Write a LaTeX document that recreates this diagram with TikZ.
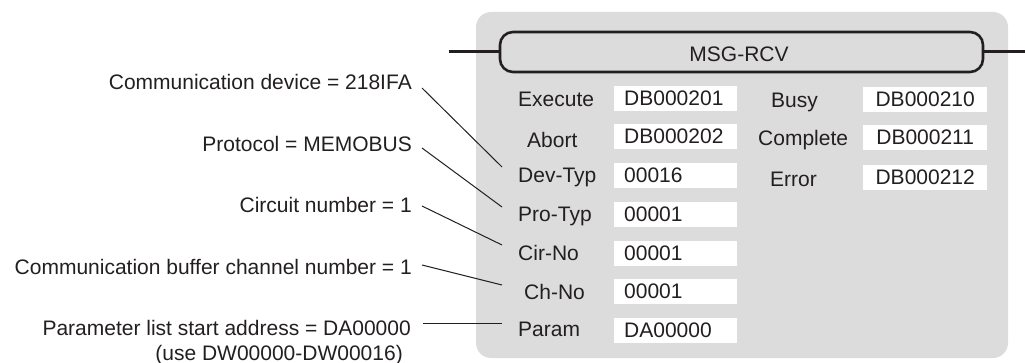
\documentclass[tikz,border=0pt]{standalone}
\usepackage{fontspec}
\setmainfont{Liberation Sans}
\usetikzlibrary{calc}
\definecolor{panel}{HTML}{DCDCDC}
\definecolor{ink}{HTML}{231F20}
\begin{document}
\begin{tikzpicture}[x=1pt,y=-1pt,
  every node/.style={font=\fontsize{21}{25}\selectfont, text=ink},
  lbl/.style={anchor=base west, inner sep=0pt},
  note/.style={anchor=base east, inner sep=0pt, align=right},
  valL/.style={fill=white, minimum width=123, minimum height=25, text width=103, inner xsep=10, inner ysep=0, align=left, text height=15, text depth=2},
  valR/.style={fill=white, minimum width=124, minimum height=25, text width=104, inner xsep=10, inner ysep=0, align=center, text height=15, text depth=2},
  stub/.style={draw=ink, line width=3},
  conn/.style={draw=ink, line width=1}]
\useasboundingbox (0,0) rectangle (1025,363);
% panel
\fill[panel, rounded corners=15] (476,12) rectangle (1008,358);
% title box
\node[draw=ink, line width=2.6, rounded corners=13, minimum width=483, minimum height=40, inner sep=0] (msg) at (741.5,52) {};
\node[anchor=base, inner sep=0] (title) at (739,62) {MSG-RCV};
\coordinate (lstub) at (449,52);
\coordinate (rstub) at (1025,52);
\draw[stub] (lstub) -- (msg.west);
\draw[stub] (msg.east) -- (rstub);
% left labels
\node[lbl] (exe) at (518,107) {Execute};
\node[lbl] (abo) at (527,148) {Abort};
\node[lbl] (dev) at (518,183) {Dev-Typ};
\node[lbl] (pro) at (518,222) {Pro-Typ};
\node[lbl] (cir) at (518,261) {Cir-No};
\node[lbl] (chn) at (524,300) {Ch-No};
\node[lbl] (par) at (518,336) {Param};
% right labels
\node[lbl] (bsy) at (771,108) {Busy};
\node[lbl] (cmp) at (758,146) {Complete};
\node[lbl] (err) at (770,187) {Error};
% left values
\node[valL, anchor=north west] (v1) at (614,86) {DB000201};
\node[valL, anchor=north west] (v2) at (614,124) {DB000202};
\node[valL, anchor=north west] (v3) at (614,163) {00016};
\node[valL, anchor=north west] (v4) at (614,202) {00001};
\node[valL, anchor=north west] (v5) at (614,241) {00001};
\node[valL, anchor=north west] (v6) at (614,279) {00001};
\node[valL, anchor=north west] (v7) at (614,318) {DA00000};
% right values
\node[valR, anchor=north west] (w1) at (863,87) {DB000210};
\node[valR, anchor=north west] (w2) at (863,125) {DB000211};
\node[valR, anchor=north west] (w3) at (863,165) {DB000212};
% notes
\node[note] (n1) at (412,90) {Communication device = 218IFA};
\node[note] (n2) at (412,152) {Protocol = MEMOBUS};
\node[note] (n3) at (412,213) {Circuit number = 1};
\node[note] (n4) at (412,275) {Communication buffer channel number = 1};
\node[note] (n5) at (411,335) {Parameter list start address = DA00000};
\node[note] (n6) at (403,360) {(use DW00000-DW00016)};
% connectors
\draw[conn] ($(n1.base east)+(10,-2)$) -- ($(dev.base west)+(-16,-16)$);
\draw[conn] ($(n2.base east)+(10,-4)$) -- ($(pro.base west)+(-16,-15)$);
\draw[conn] ($(n3.base east)+(10,-7)$) -- ($(cir.base west)+(-16,-16)$);
\draw[conn] ($(n4.base east)+(10,-10)$) -- ($(chn.base west)+(-22,-15)$);
\draw[conn] ($(n5.base east)+(12,-12)$) -- ($(par.base west)+(-16,-13)$);
\end{tikzpicture}
\end{document}
